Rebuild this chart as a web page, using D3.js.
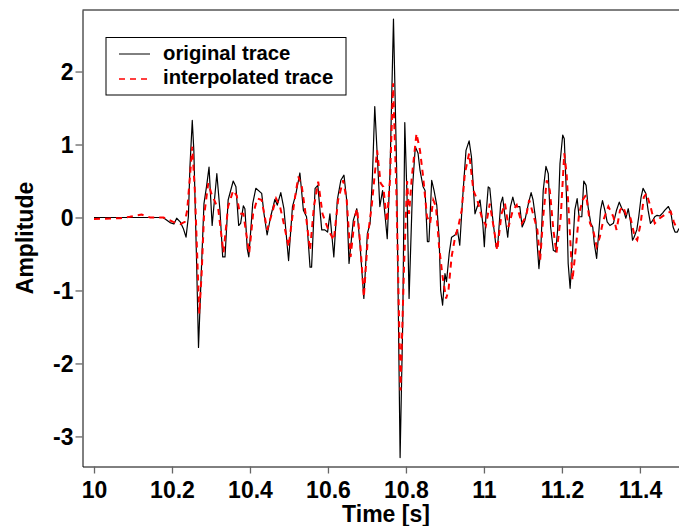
<!DOCTYPE html>
<html>
<head>
<meta charset="utf-8">
<script src="https://cdn.jsdelivr.net/npm/d3@7"></script>
<style>
  html, body { margin: 0; padding: 0; background: #fff; }
  svg { display: block; }
  text { font-family: "Liberation Sans", Arial, Helvetica, sans-serif; font-weight: bold; fill: #000; }
</style>
</head>
<body>
<svg id="chart" width="679" height="526"></svg>
<script>
// Original seismic trace: sample times [s] and amplitudes
const origTime = [
  10.000, 10.177, 10.195, 10.205, 10.212, 10.221, 10.229, 10.236, 10.242, 10.246,
  10.252, 10.256, 10.263, 10.268, 10.275, 10.282, 10.289, 10.295, 10.303, 10.315,
  10.323, 10.330, 10.336, 10.344, 10.357, 10.364, 10.371, 10.376, 10.383, 10.387,
  10.393, 10.397, 10.407, 10.415, 10.430, 10.436, 10.444, 10.453, 10.464, 10.470,
  10.479, 10.487, 10.499, 10.509, 10.518, 10.528, 10.537, 10.545, 10.554, 10.558,
  10.567, 10.574, 10.584, 10.592, 10.599, 10.605, 10.615, 10.624, 10.633, 10.641,
  10.648, 10.654, 10.665, 10.674, 10.682, 10.692, 10.701, 10.708, 10.714, 10.720,
  10.727, 10.733, 10.740, 10.746, 10.752, 10.759, 10.768, 10.776, 10.785, 10.792,
  10.797, 10.803, 10.808, 10.817, 10.824, 10.831, 10.836, 10.844, 10.849, 10.855,
  10.859, 10.866, 10.872, 10.879, 10.885, 10.889, 10.894, 10.900, 10.904, 10.911,
  10.917, 10.926, 10.932, 10.938, 10.945, 10.954, 10.962, 10.968, 10.977, 10.983,
  10.990, 10.997, 11.001, 11.005, 11.011, 11.015, 11.022, 11.031, 11.035, 11.043,
  11.048, 11.054, 11.061, 11.068, 11.074, 11.079, 11.085, 11.092, 11.098, 11.105,
  11.114, 11.121, 11.126, 11.133, 11.137, 11.141, 11.146, 11.152, 11.159, 11.165,
  11.171, 11.178, 11.184, 11.189, 11.195, 11.202, 11.206, 11.212, 11.216, 11.221,
  11.227, 11.233, 11.239, 11.244, 11.251, 11.256, 11.262, 11.267, 11.274, 11.279,
  11.283, 11.289, 11.295, 11.299, 11.304, 11.310, 11.316, 11.323, 11.332, 11.340,
  11.347, 11.354, 11.359, 11.364, 11.370, 11.376, 11.381, 11.385, 11.392, 11.397,
  11.403, 11.408, 11.415, 11.421, 11.427, 11.433, 11.438, 11.444, 11.451, 11.458,
  11.464, 11.473, 11.479, 11.485, 11.490, 11.496, 11.500
];
const origAmp = [
  0.00, 0.00, -0.07, -0.09, -0.01, -0.06, -0.15, -0.27, 0.01, 0.69,
  1.33, 0.92, -0.59, -1.78, -0.77, 0.19, 0.44, 0.69, -0.11, 0.60,
  0.10, -0.54, -0.54, 0.24, 0.50, 0.42, -0.11, -0.08, 0.16, 0.12,
  -0.43, -0.54, 0.19, 0.40, 0.33, 0.05, -0.24, 0.01, 0.25, 0.17,
  0.34, 0.12, -0.59, 0.15, 0.33, 0.61, 0.10, 0.01, -0.68, -0.68,
  0.40, 0.44, -0.17, -0.17, -0.20, 0.05, -0.54, 0.24, 0.51, 0.58,
  0.24, -0.63, -0.04, 0.12, -0.36, -1.11, -0.22, -0.08, 0.56, 1.52,
  0.79, 0.15, 0.37, 0.05, -0.29, 0.60, 2.72, 0.69, -3.29, -1.36,
  1.30, 0.24, -1.11, 0.42, 0.97, 0.88, 0.65, 0.42, 0.37, -0.33,
  -0.33, 0.51, 0.37, 0.17, -0.27, -1.00, -1.20, -0.77, -0.88, -0.49,
  -0.27, -0.24, -0.17, -0.38, 0.24, 0.92, 1.05, 0.83, 0.05, 0.15,
  0.24, -0.08, -0.40, 0.01, 0.42, 0.40, 0.01, -0.40, -0.40, 0.19,
  0.28, 0.01, -0.27, 0.15, 0.28, 0.17, 0.15, 0.15, -0.13, -0.04,
  0.19, 0.34, 0.24, -0.04, -0.40, -0.70, -0.40, 0.37, 0.70, 0.60,
  -0.13, -0.45, -0.47, -0.17, 0.74, 1.13, 1.08, 0.24, -0.63, -0.97,
  -0.49, 0.10, 0.26, 0.01, 0.01, 0.50, 0.44, 0.15, -0.08, -0.13,
  -0.36, -0.56, -0.17, 0.10, 0.23, 0.10, -0.06, -0.11, -0.08, 0.10,
  0.21, 0.12, 0.08, -0.01, 0.12, -0.06, -0.31, -0.27, -0.17, 0.01,
  0.28, 0.40, 0.33, 0.10, -0.08, -0.04, 0.01, 0.03, 0.02, 0.06,
  0.10, 0.15, 0.08, -0.13, -0.20, -0.20, -0.15
];

// Interpolated trace: times [s] and amplitudes
const interpTime = [
  10.000, 10.067, 10.092, 10.122, 10.144, 10.178, 10.203, 10.221, 10.233, 10.239,
  10.246, 10.252, 10.259, 10.265, 10.270, 10.276, 10.282, 10.293, 10.302, 10.310,
  10.319, 10.332, 10.344, 10.357, 10.366, 10.374, 10.383, 10.398, 10.408, 10.419,
  10.430, 10.444, 10.456, 10.467, 10.477, 10.485, 10.499, 10.513, 10.524, 10.533,
  10.545, 10.554, 10.564, 10.575, 10.586, 10.601, 10.615, 10.626, 10.639, 10.648,
  10.658, 10.669, 10.675, 10.684, 10.692, 10.703, 10.712, 10.726, 10.735, 10.742,
  10.751, 10.759, 10.767, 10.776, 10.786, 10.795, 10.803, 10.808, 10.815, 10.827,
  10.836, 10.844, 10.854, 10.862, 10.870, 10.877, 10.885, 10.894, 10.903, 10.909,
  10.917, 10.926, 10.934, 10.943, 10.951, 10.962, 10.973, 10.983, 10.994, 11.005,
  11.015, 11.026, 11.034, 11.045, 11.054, 11.063, 11.074, 11.084, 11.097, 11.108,
  11.116, 11.126, 11.137, 11.144, 11.152, 11.161, 11.169, 11.178, 11.186, 11.197,
  11.206, 11.212, 11.221, 11.227, 11.236, 11.244, 11.253, 11.262, 11.272, 11.280,
  11.289, 11.297, 11.306, 11.319, 11.332, 11.340, 11.349, 11.357, 11.366, 11.376,
  11.387, 11.393, 11.402, 11.410, 11.417, 11.427, 11.438, 11.451, 11.467, 11.479,
  11.487, 11.496
];
const interpAmp = [
  -0.02, -0.01, 0.01, 0.04, 0.00, 0.00, -0.06, -0.09, -0.06, 0.10,
  0.56, 0.97, 0.33, -0.58, -1.32, -0.77, 0.01, 0.47, 0.31, 0.22,
  0.10, -0.48, 0.15, 0.37, 0.30, 0.05, 0.05, -0.49, 0.05, 0.26,
  0.24, -0.17, 0.05, 0.26, 0.15, -0.04, -0.40, 0.19, 0.56, 0.42,
  -0.04, -0.45, 0.15, 0.49, 0.05, -0.17, -0.31, 0.24, 0.51, 0.24,
  -0.54, 0.01, 0.12, -0.45, -1.09, -0.22, 0.15, 0.92, 0.47, 0.42,
  -0.06, 0.51, 1.84, 0.24, -2.37, -0.68, 0.50, 0.05, 0.55, 1.15,
  0.92, 0.56, 0.01, -0.08, 0.24, 0.15, -0.40, -0.81, -1.11, -1.00,
  -0.54, -0.27, -0.13, 0.10, 0.60, 0.88, 0.37, 0.24, 0.01, -0.11,
  0.19, -0.17, -0.45, 0.05, 0.19, -0.13, 0.10, 0.17, -0.08, 0.01,
  0.24, 0.05, -0.17, -0.59, 0.01, 0.51, 0.37, -0.17, -0.49, 0.01,
  0.88, 0.60, -0.27, -0.86, -0.40, 0.05, 0.24, 0.31, -0.08, -0.17,
  -0.40, -0.27, -0.04, 0.15, 0.01, -0.17, 0.10, 0.15, 0.01, -0.01,
  -0.27, -0.31, -0.08, 0.28, 0.33, 0.15, -0.08, -0.01, 0.05, 0.08,
  -0.06, -0.17
];

const xTicks = [10, 10.2, 10.4, 10.6, 10.8, 11, 11.2, 11.4];
const yTicks = [-3, -2, -1, 0, 1, 2];
const seriesNames = ["original trace", "interpolated trace"];

const svg = d3.select("#chart");
const plot = { left: 82.5, right: 679.5, top: 10, bottom: 466.5 };

const x = d3.scaleLinear().domain([9.9705, 11.5015]).range([plot.left, plot.right]);
const y = d3.scaleLinear().domain([-3.412, 2.843]).range([plot.bottom, plot.top]);

svg.append("defs").append("clipPath").attr("id", "plotclip")
  .append("rect")
  .attr("x", plot.left).attr("y", plot.top)
  .attr("width", plot.right - plot.left).attr("height", plot.bottom - plot.top);

const line = d3.line().x(d => x(d[0])).y(d => y(d[1]));

const origData = origTime.map((t, i) => [t, origAmp[i]]);
const interpData = interpTime.map((t, i) => [t, interpAmp[i]]);

const traces = svg.append("g").attr("clip-path", "url(#plotclip)");
traces.append("path")
  .datum(origData)
  .attr("d", line)
  .attr("fill", "none")
  .attr("stroke", "#000")
  .attr("stroke-width", 1.2)
  .attr("stroke-linejoin", "round");
traces.append("path")
  .datum(interpData)
  .attr("d", line)
  .attr("fill", "none")
  .attr("stroke", "#ff0000")
  .attr("stroke-width", 2)
  .attr("stroke-dasharray", "6,5");

// Frame: top edge light, left and bottom axes black
svg.append("line")
  .attr("x1", plot.left).attr("x2", plot.right)
  .attr("y1", 10).attr("y2", 10)
  .attr("stroke", "#000").attr("stroke-width", 1);

const xAxis = d3.axisBottom(x).tickValues(xTicks).tickSize(7).tickSizeOuter(0)
  .tickFormat(d3.format("~g"));
const gx = svg.append("g").attr("transform", `translate(0,${plot.bottom})`).call(xAxis);
gx.select(".domain").attr("stroke", "#000").attr("stroke-width", 1);
gx.selectAll(".tick line").attr("stroke", "#666").attr("stroke-width", 1.3);
gx.selectAll(".tick text")
  .attr("y", 31).attr("dy", 0)
  .style("font-size", "23px").style("font-weight", "bold")
  .style("font-family", '"Liberation Sans", Arial, sans-serif')
  .attr("fill", "#000");

const yAxis = d3.axisLeft(y).tickValues(yTicks).tickSize(7).tickSizeOuter(0)
  .tickFormat(d3.format("d"));
const gy = svg.append("g").attr("transform", `translate(${plot.left},0)`).call(yAxis);
gy.select(".domain").attr("stroke", "#000").attr("stroke-width", 1);
gy.selectAll(".tick line").attr("stroke", "#666").attr("stroke-width", 1.3);
gy.selectAll(".tick text")
  .attr("x", -9).attr("dy", "0.36em")
  .text(d => d < 0 ? "-" + Math.abs(d) : d)
  .style("font-size", "23px").style("font-weight", "bold")
  .style("font-family", '"Liberation Sans", Arial, sans-serif')
  .attr("fill", "#000");

// Axis titles
svg.append("text")
  .attr("x", 386).attr("y", 522)
  .attr("text-anchor", "middle")
  .style("font-size", "23px")
  .text("Time [s]");
svg.append("text")
  .attr("transform", "translate(33,238) rotate(-90)")
  .attr("text-anchor", "middle")
  .style("font-size", "23px")
  .text("Amplitude");

// Legend
const legend = svg.append("g");
legend.append("rect")
  .attr("x", 106).attr("y", 37.5).attr("width", 240).attr("height", 57.5)
  .attr("fill", "#fff").attr("stroke", "#000").attr("stroke-width", 1);
legend.append("line")
  .attr("x1", 119).attr("x2", 150).attr("y1", 54).attr("y2", 54)
  .attr("stroke", "#000").attr("stroke-width", 1);
legend.append("line")
  .attr("x1", 119).attr("x2", 150).attr("y1", 79).attr("y2", 79)
  .attr("stroke", "#ff0000").attr("stroke-width", 1.3).attr("stroke-dasharray", "6,5");
legend.append("text").attr("x", 163).attr("y", 59.5)
  .style("font-size", "20.3px").text(seriesNames[0]);
legend.append("text").attr("x", 163).attr("y", 84)
  .style("font-size", "20.3px").text(seriesNames[1]);
</script>
</body>
</html>
